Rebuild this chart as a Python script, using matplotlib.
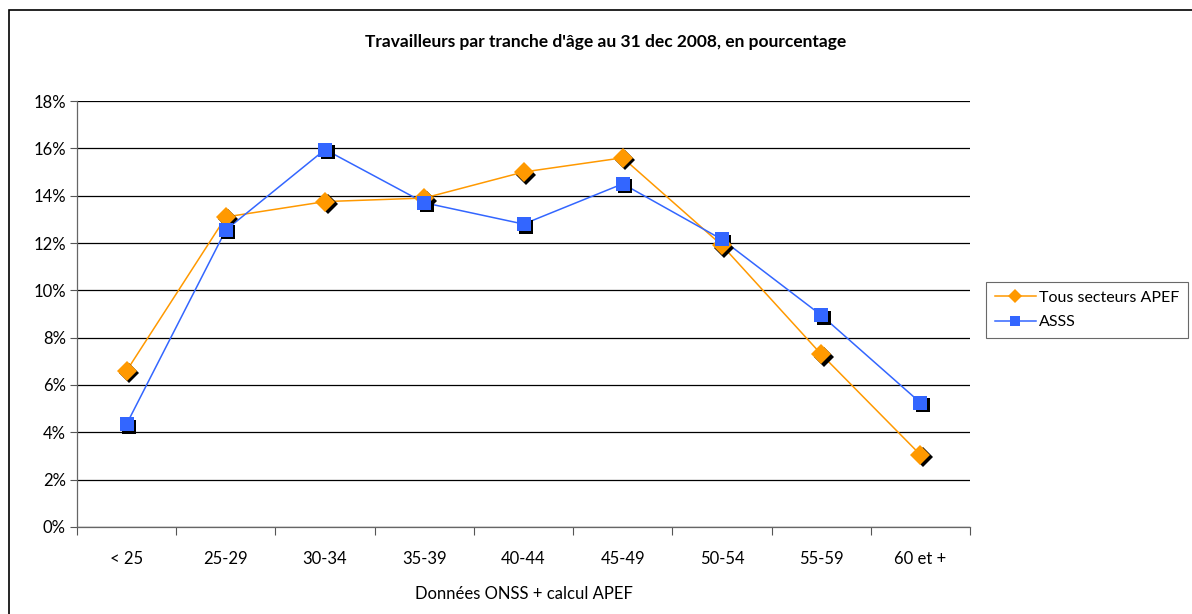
import numpy as np
import matplotlib
matplotlib.use("Agg")
import matplotlib.pyplot as plt
from matplotlib.transforms import ScaledTranslation
from matplotlib.patches import Rectangle

plt.rcParams['font.family'] = ['Lato', 'DejaVu Sans']

categories = ["< 25", "25-29", "30-34", "35-39", "40-44", "45-49", "50-54", "55-59", "60 et +"]
tous_secteurs = [6.6, 13.1, 13.75, 13.9, 15.0, 15.6, 11.9, 7.3, 3.05]
asss = [4.35, 12.55, 15.95, 13.7, 12.8, 14.5, 12.15, 8.95, 5.25]
yticks = [0, 2, 4, 6, 8, 10, 12, 14, 16, 18]

orange = '#FF9900'
blue = '#3366FF'

fig = plt.figure(figsize=(11.92, 6.14), dpi=100, facecolor='w')
ax = fig.add_axes([0.0646, 0.1417, 0.7492, 0.6938])

x = np.arange(len(categories))
shadow = ax.transData + ScaledTranslation(2.5 / 100, -2.5 / 100, fig.dpi_scale_trans)

# lines
ax.plot(x, tous_secteurs, color=orange, lw=1.1, zorder=3)
ax.plot(x, asss, color=blue, lw=1.1, zorder=3)
# marker shadows
ax.plot(x, tous_secteurs, 'D', color='black', ms=10, mew=0, transform=shadow, zorder=4)
ax.plot(x, asss, 's', color='black', ms=10.5, mew=0, transform=shadow, zorder=4)
# markers
ax.plot(x, tous_secteurs, 'D', color=orange, ms=10, mew=0, zorder=5)
ax.plot(x, asss, 's', color=blue, ms=10.5, mew=0, zorder=5)

# legend handles
h1, = ax.plot([], [], color=orange, marker='D', ms=7.5, lw=1.1, mew=0)
h2, = ax.plot([], [], color=blue, marker='s', ms=7.5, lw=1.1, mew=0)
leg = fig.legend([h1, h2], ["Tous secteurs APEF", "ASSS"], loc='upper left',
                 bbox_to_anchor=(0.827, 0.541), bbox_transform=fig.transFigure,
                 frameon=True, fancybox=False, edgecolor='#444444', fontsize=11.5,
                 handlelength=2.6, handletextpad=0.2, borderpad=0.55, labelspacing=0.65,
                 borderaxespad=0)
leg.get_frame().set_linewidth(0.8)

ax.set_xlim(-0.5, len(categories) - 0.5)
ax.set_ylim(0, 18)
ax.set_yticks(yticks)
ax.set_yticklabels(["%d%%" % v for v in yticks])
ax.set_xticks(x)
ax.set_xticklabels(categories)
ax.set_xticks(np.arange(len(categories) + 1) - 0.5, minor=True)
ax.tick_params(axis='x', which='major', length=0, pad=17, labelsize=12)
ax.tick_params(axis='x', which='minor', length=6, color='#555555', width=0.8)
ax.tick_params(axis='y', length=5, color='#555555', width=0.8, labelsize=12, pad=3)

ax.grid(axis='y', color='black', lw=0.9)
ax.set_axisbelow(True)
for side in ['top', 'right']:
    ax.spines[side].set_visible(False)
for side in ['left', 'bottom']:
    ax.spines[side].set_color('#666666')
    ax.spines[side].set_linewidth(0.9)

ax.set_xlabel("Données ONSS + calcul APEF", fontsize=12, labelpad=14)
fig.text(0.508, 0.932, "Travailleurs par tranche d'âge au 31 dec 2008, en pourcentage",
         ha='center', va='center', fontsize=12.5, fontweight='bold')

# outer chart border
fig.patches.append(Rectangle((9 / 1192, -0.05), 1.2, 1 - 10 / 614 + 0.05,
                             transform=fig.transFigure, fill=False,
                             edgecolor='black', lw=1.2))

fig.savefig("out.png", dpi=100)
